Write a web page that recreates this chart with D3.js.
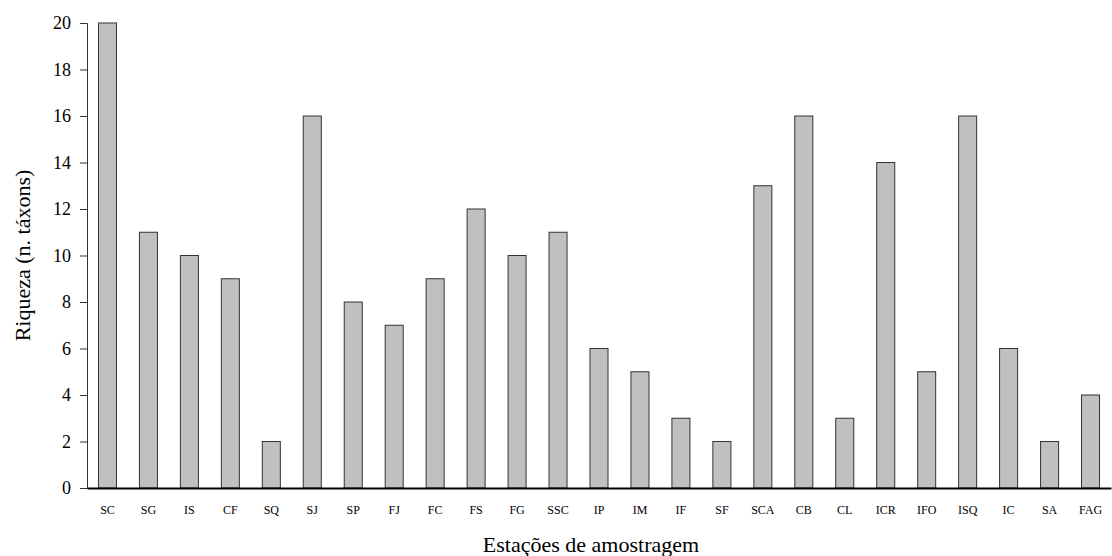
<!DOCTYPE html>
<html>
<head>
<meta charset="utf-8">
<script src="https://cdn.jsdelivr.net/npm/d3@7"></script>
<style>
  body { margin: 0; background: #fff; }
  svg text { font-family: 'Liberation Serif', serif !important; }
</style>
</head>
<body>
<script>
var estacoes = ['SC', 'SG', 'IS', 'CF', 'SQ', 'SJ', 'SP', 'FJ', 'FC', 'FS', 'FG', 'SSC', 'IP',
    'IM', 'IF', 'SF', 'SCA', 'CB', 'CL', 'ICR', 'IFO', 'ISQ', 'IC', 'SA', 'FAG'];
var riqueza = [20, 11, 10, 9, 2, 16, 8, 7, 9, 12, 10, 11, 6, 5, 3, 2, 13, 16, 3, 14, 5, 16, 6, 2, 4];
var yTicks = [0, 2, 4, 6, 8, 10, 12, 14, 16, 18, 20];

var width = 1112, height = 556;
var margin = { top: 23, right: 1, bottom: 68, left: 87 };

var svg = d3.select('body').append('svg')
    .attr('width', width)
    .attr('height', height);

var x = d3.scaleBand()
    .domain(estacoes)
    .range([margin.left, width - margin.right])
    .paddingInner(0.56)
    .paddingOuter(0.28);

var y = d3.scaleLinear()
    .domain([0, 20])
    .range([height - margin.bottom, margin.top]);

svg.selectAll('rect.bar')
    .data(riqueza)
    .enter()
    .append('rect')
    .attr('class', 'bar')
    .attr('x', function(d, i) { return x(estacoes[i]); })
    .attr('y', function(d) { return y(d); })
    .attr('width', x.bandwidth())
    .attr('height', function(d) { return y(0) - y(d); })
    .attr('fill', '#c0c0c0')
    .attr('stroke', '#333')
    .attr('stroke-width', 1);

// y axis
var yAxis = svg.append('g')
    .attr('transform', 'translate(' + margin.left + ',0)')
    .call(d3.axisLeft(y).tickValues(yTicks).tickSize(7).tickPadding(9))
    .attr('font-size', 18);
yAxis.select('.domain').attr('stroke', '#333');
yAxis.selectAll('.tick line').attr('stroke', '#333');
yAxis.selectAll('text').attr('fill', '#000');

// x axis
var xAxis = svg.append('g')
    .attr('transform', 'translate(0,' + y(0) + ')')
    .call(d3.axisBottom(x).tickSize(0).tickPadding(17))
    .attr('font-size', 12);
xAxis.select('.domain').attr('stroke', '#000').attr('stroke-width', 2);
xAxis.selectAll('text').attr('fill', '#000');

svg.append('text')
    .attr('x', 591)
    .attr('y', 552)
    .attr('text-anchor', 'middle')
    .attr('font-size', 22)
    .text('Estações de amostragem');

svg.append('text')
    .attr('transform', 'translate(30,' + ((margin.top + height - margin.bottom) / 2) + ') rotate(-90)')
    .attr('text-anchor', 'middle')
    .attr('font-size', 22)
    .text('Riqueza (n. táxons)');
</script>
</body>
</html>
